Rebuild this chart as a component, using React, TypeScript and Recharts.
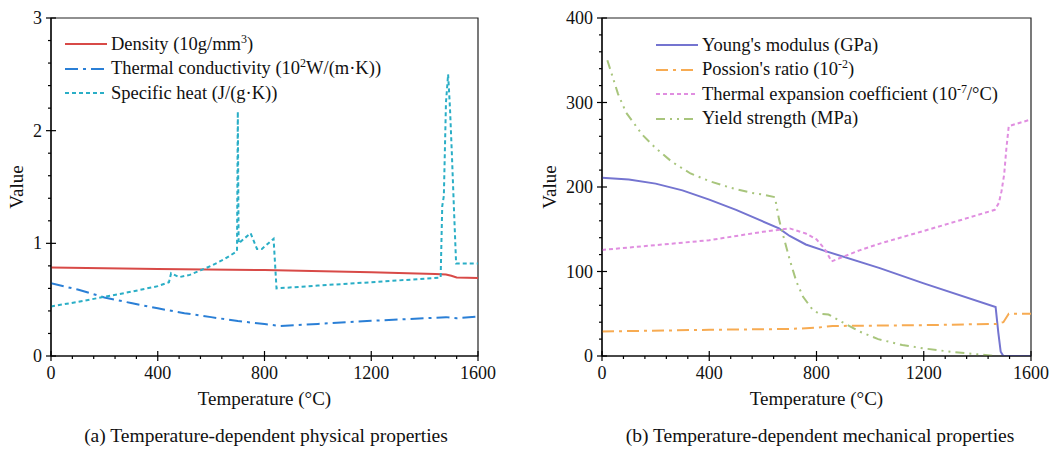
import React from 'react';
import { LineChart, Line, XAxis, YAxis, ReferenceArea, Legend, Label } from 'recharts';

const FONT = '"Liberation Serif", "Times New Roman", serif';

// temperature ticks (major every 400, minor every 80)
const tempTicks = [0, 80, 160, 240, 320, 400, 480, 560, 640, 720, 800, 880, 960, 1040, 1120, 1200, 1280, 1360, 1440, 1520, 1600];
const physTicks = [0, 0.2, 0.4, 0.6, 0.8, 1, 1.2, 1.4, 1.6, 1.8, 2, 2.2, 2.4, 2.6, 2.8, 3];
const mechTicks = [0, 20, 40, 60, 80, 100, 120, 140, 160, 180, 200, 220, 240, 260, 280, 300, 320, 340, 360, 380, 400];

// (a) physical properties
const densityTemp = [0, 400, 800, 1200, 1440, 1480, 1500, 1520, 1600];
const densityVal = [0.785, 0.772, 0.763, 0.744, 0.728, 0.724, 0.712, 0.697, 0.692];

const conductTemp = [0, 100, 200, 300, 400, 500, 600, 700, 800, 860, 1000, 1200, 1400, 1480, 1520, 1600];
const conductVal = [0.645, 0.59, 0.52, 0.47, 0.423, 0.38, 0.345, 0.31, 0.284, 0.266, 0.285, 0.312, 0.335, 0.345, 0.335, 0.35];

const heatTemp = [0, 100, 200, 300, 400, 442, 450, 480, 520, 560, 600, 650, 697, 700, 703, 748, 772, 790, 834, 845, 1000, 1200, 1460, 1466, 1472, 1480, 1488, 1495, 1502, 1510, 1518, 1600];
const heatVal = [0.44, 0.48, 0.525, 0.57, 0.62, 0.655, 0.735, 0.70, 0.72, 0.76, 0.80, 0.86, 0.93, 2.17, 1.0, 1.09, 0.95, 0.95, 1.04, 0.60, 0.625, 0.655, 0.695, 1.33, 1.42, 2.25, 2.5, 2.2, 1.8, 1.3, 0.82, 0.82];

// (b) mechanical properties
const youngTemp = [0, 100, 200, 300, 400, 500, 587, 660, 700, 760, 825, 1036, 1200, 1468, 1478, 1487, 1497, 1600];
const youngVal = [211, 209, 204, 196, 185, 173, 161, 151, 142, 132, 125, 104, 86, 58, 28, 5, 0, 0];

const poissonTemp = [0, 400, 700, 800, 860, 1200, 1470, 1497, 1517, 1600];
const poissonVal = [29, 31, 32, 33.5, 35.5, 36.5, 38, 40, 50, 50];

const expansionTemp = [0, 400, 600, 700, 760, 800, 830, 856, 960, 1036, 1200, 1350, 1465, 1480, 1490, 1500, 1508, 1517, 1600];
const expansionVal = [125.5, 137, 147, 151, 145, 138, 127, 112, 125, 133, 148, 162, 173, 181, 195, 215, 245, 272, 280];

const yieldTemp = [20, 60, 90, 150, 200, 260, 330, 400, 480, 560, 600, 645, 660, 672, 700, 725, 750, 785, 810, 845, 885, 960, 1030, 1120, 1200, 1300, 1400, 1470];
const yieldVal = [350, 310, 288, 262, 246, 230, 216, 207, 199, 193, 191, 188, 162, 147, 114, 88, 70, 55, 50, 49, 42, 29, 20, 13, 9, 5, 2, 0];

const zip = (ts: number[], vs: number[]) => ts.map((t, i) => ({ t, v: vs[i] }));

type Series = { key: string; label: React.ReactNode; color: string; dash?: string; data: { t: number; v: number }[] };

const sup = (s: string) => (
  <span style={{ fontSize: 12, position: 'relative', top: -7, lineHeight: 0 }}>{s}</span>
);

const physSeries: Series[] = [
  { key: 'density', label: <>Density (10g/mm{sup('3')})</>, color: '#d84a47', data: zip(densityTemp, densityVal) },
  { key: 'conduct', label: <>Thermal conductivity (10{sup('2')}W/(m·K))</>, color: '#2a7fd6', dash: '13 5 3 5', data: zip(conductTemp, conductVal) },
  { key: 'heat', label: <>Specific heat (J/(g·K))</>, color: '#2aaec6', dash: '4 3', data: zip(heatTemp, heatVal) },
];

const mechSeries: Series[] = [
  { key: 'young', label: <>Young's modulus (GPa)</>, color: '#7474d0', data: zip(youngTemp, youngVal) },
  { key: 'poisson', label: <>Possion's ratio (10{sup('-2')})</>, color: '#f7ab52', dash: '12 5 3 5', data: zip(poissonTemp, poissonVal) },
  { key: 'expansion', label: <>Thermal expansion coefficient (10{sup('-7')}/°C)</>, color: '#e08ee0', dash: '4 3', data: zip(expansionTemp, expansionVal) },
  { key: 'yield', label: <>Yield strength (MPa)</>, color: '#a8c57c', dash: '9 5 2 5 2 5', data: zip(yieldTemp, yieldVal) },
];

function XTick({ x, y, payload }: any) {
  const major = payload.value % 400 === 0;
  return (
    <g>
      <line x1={x} x2={x} y1={major ? y - 5 : y} y2={y + (major ? 5 : 3)} stroke="#000" strokeWidth={1.2} />
      {major && (
        <text x={x} y={y + 23} textAnchor="middle" fontFamily={FONT} fontSize={18} fill="#111">
          {payload.value}
        </text>
      )}
    </g>
  );
}

function makeYTick(step: number) {
  return function YTick({ x, y, payload }: any) {
    const r = payload.value / step;
    const major = Math.abs(r - Math.round(r)) < 1e-6;
    return (
      <g>
        <line x1={major ? x - 5 : x - 3} x2={major ? x + 5 : x} y1={y} y2={y} stroke="#000" strokeWidth={1.2} />
        {major && (
          <text x={x - 9} y={y + 6} textAnchor="end" fontFamily={FONT} fontSize={18} fill="#111">
            {Math.round(payload.value)}
          </text>
        )}
      </g>
    );
  };
}

function LegendBox({ items }: { items: Series[] }) {
  return (
    <div style={{ fontFamily: FONT, fontSize: 18.5, color: '#111' }}>
      {items.map((s) => (
        <div key={s.key} style={{ display: 'flex', alignItems: 'center', height: 24.5, whiteSpace: 'nowrap' }}>
          <svg width={42} height={10} style={{ marginRight: 4 }}>
            <line x1={0} x2={42} y1={5} y2={5} stroke={s.color} strokeWidth={2} strokeDasharray={s.dash} />
          </svg>
          <span>{s.label}</span>
        </div>
      ))}
    </div>
  );
}

function Panel({
  series, yMax, yTicks, yStep, marginLeft, yWidth, marginRight, width, legendLeft, legendTop, labelDx,
}: {
  series: Series[]; yMax: number; yTicks: number[]; yStep: number; marginLeft: number; yWidth: number;
  marginRight: number; width: number; legendLeft: number; legendTop: number; labelDx: number;
}) {
  return (
    <LineChart width={width} height={451} margin={{ top: 18, right: marginRight, left: marginLeft, bottom: 55 }}>
      <ReferenceArea x1={0} x2={1600} y1={0} y2={yMax} fill="none" stroke="#222" strokeWidth={1.2} />
      <XAxis
        type="number"
        dataKey="t"
        domain={[0, 1600]}
        ticks={tempTicks}
        interval={0}
        height={40}
        tickSize={0}
        tickMargin={0}
        tick={<XTick />}
        axisLine={{ stroke: '#000', strokeWidth: 1.2 }}
        allowDataOverflow
      >
        <Label value="Temperature (°C)" position="center" dy={22} style={{ fontFamily: FONT, fontSize: 19, fill: '#111' }} />
      </XAxis>
      <YAxis
        type="number"
        dataKey="v"
        domain={[0, yMax]}
        ticks={yTicks}
        interval={0}
        width={yWidth}
        tickSize={0}
        tickMargin={0}
        tick={makeYTick(yStep)}
        axisLine={{ stroke: '#000', strokeWidth: 1.2 }}
        allowDataOverflow
      >
        <Label value="Value" angle={-90} position="center" dx={labelDx} style={{ fontFamily: FONT, fontSize: 19, fill: '#111' }} />
      </YAxis>
      <Legend
        layout="horizontal"
        verticalAlign="middle"
        align="center"
        wrapperStyle={{ left: legendLeft, top: legendTop, width: 'auto', height: 'auto' }}
        content={() => <LegendBox items={series} />}
      />
      {series.map((s) => (
        <Line
          key={s.key}
          data={s.data}
          dataKey="v"
          name={s.key}
          type="linear"
          stroke={s.color}
          strokeWidth={2}
          strokeDasharray={s.dash}
          dot={false}
          activeDot={false}
          isAnimationActive={false}
        />
      ))}
    </LineChart>
  );
}

const captionStyle: React.CSSProperties = {
  position: 'absolute',
  top: 425,
  fontFamily: FONT,
  fontSize: 19.5,
  color: '#111',
  textAlign: 'center',
  whiteSpace: 'nowrap',
};

export default function App() {
  return (
    <div style={{ position: 'absolute', left: 0, top: 0, width: 1057, height: 451, background: '#fff', fontFamily: FONT }}>
      <div style={{ position: 'absolute', left: 0, top: 0 }}>
        <Panel series={physSeries} yMax={3} yTicks={physTicks} yStep={1} marginLeft={11} yWidth={40}
          marginRight={52} width={530} legendLeft={65} legendTop={32} labelDx={-15} />
      </div>
      <div style={{ position: 'absolute', left: 530, top: 0 }}>
        <Panel series={mechSeries} yMax={400} yTicks={mechTicks} yStep={100} marginLeft={22} yWidth={50}
          marginRight={26} width={527} legendLeft={126} legendTop={33} labelDx={-28} />
      </div>
      <div style={{ ...captionStyle, left: 66, width: 400 }}>(a) Temperature-dependent physical properties</div>
      <div style={{ ...captionStyle, left: 620, width: 400 }}>(b) Temperature-dependent mechanical properties</div>
    </div>
  );
}
